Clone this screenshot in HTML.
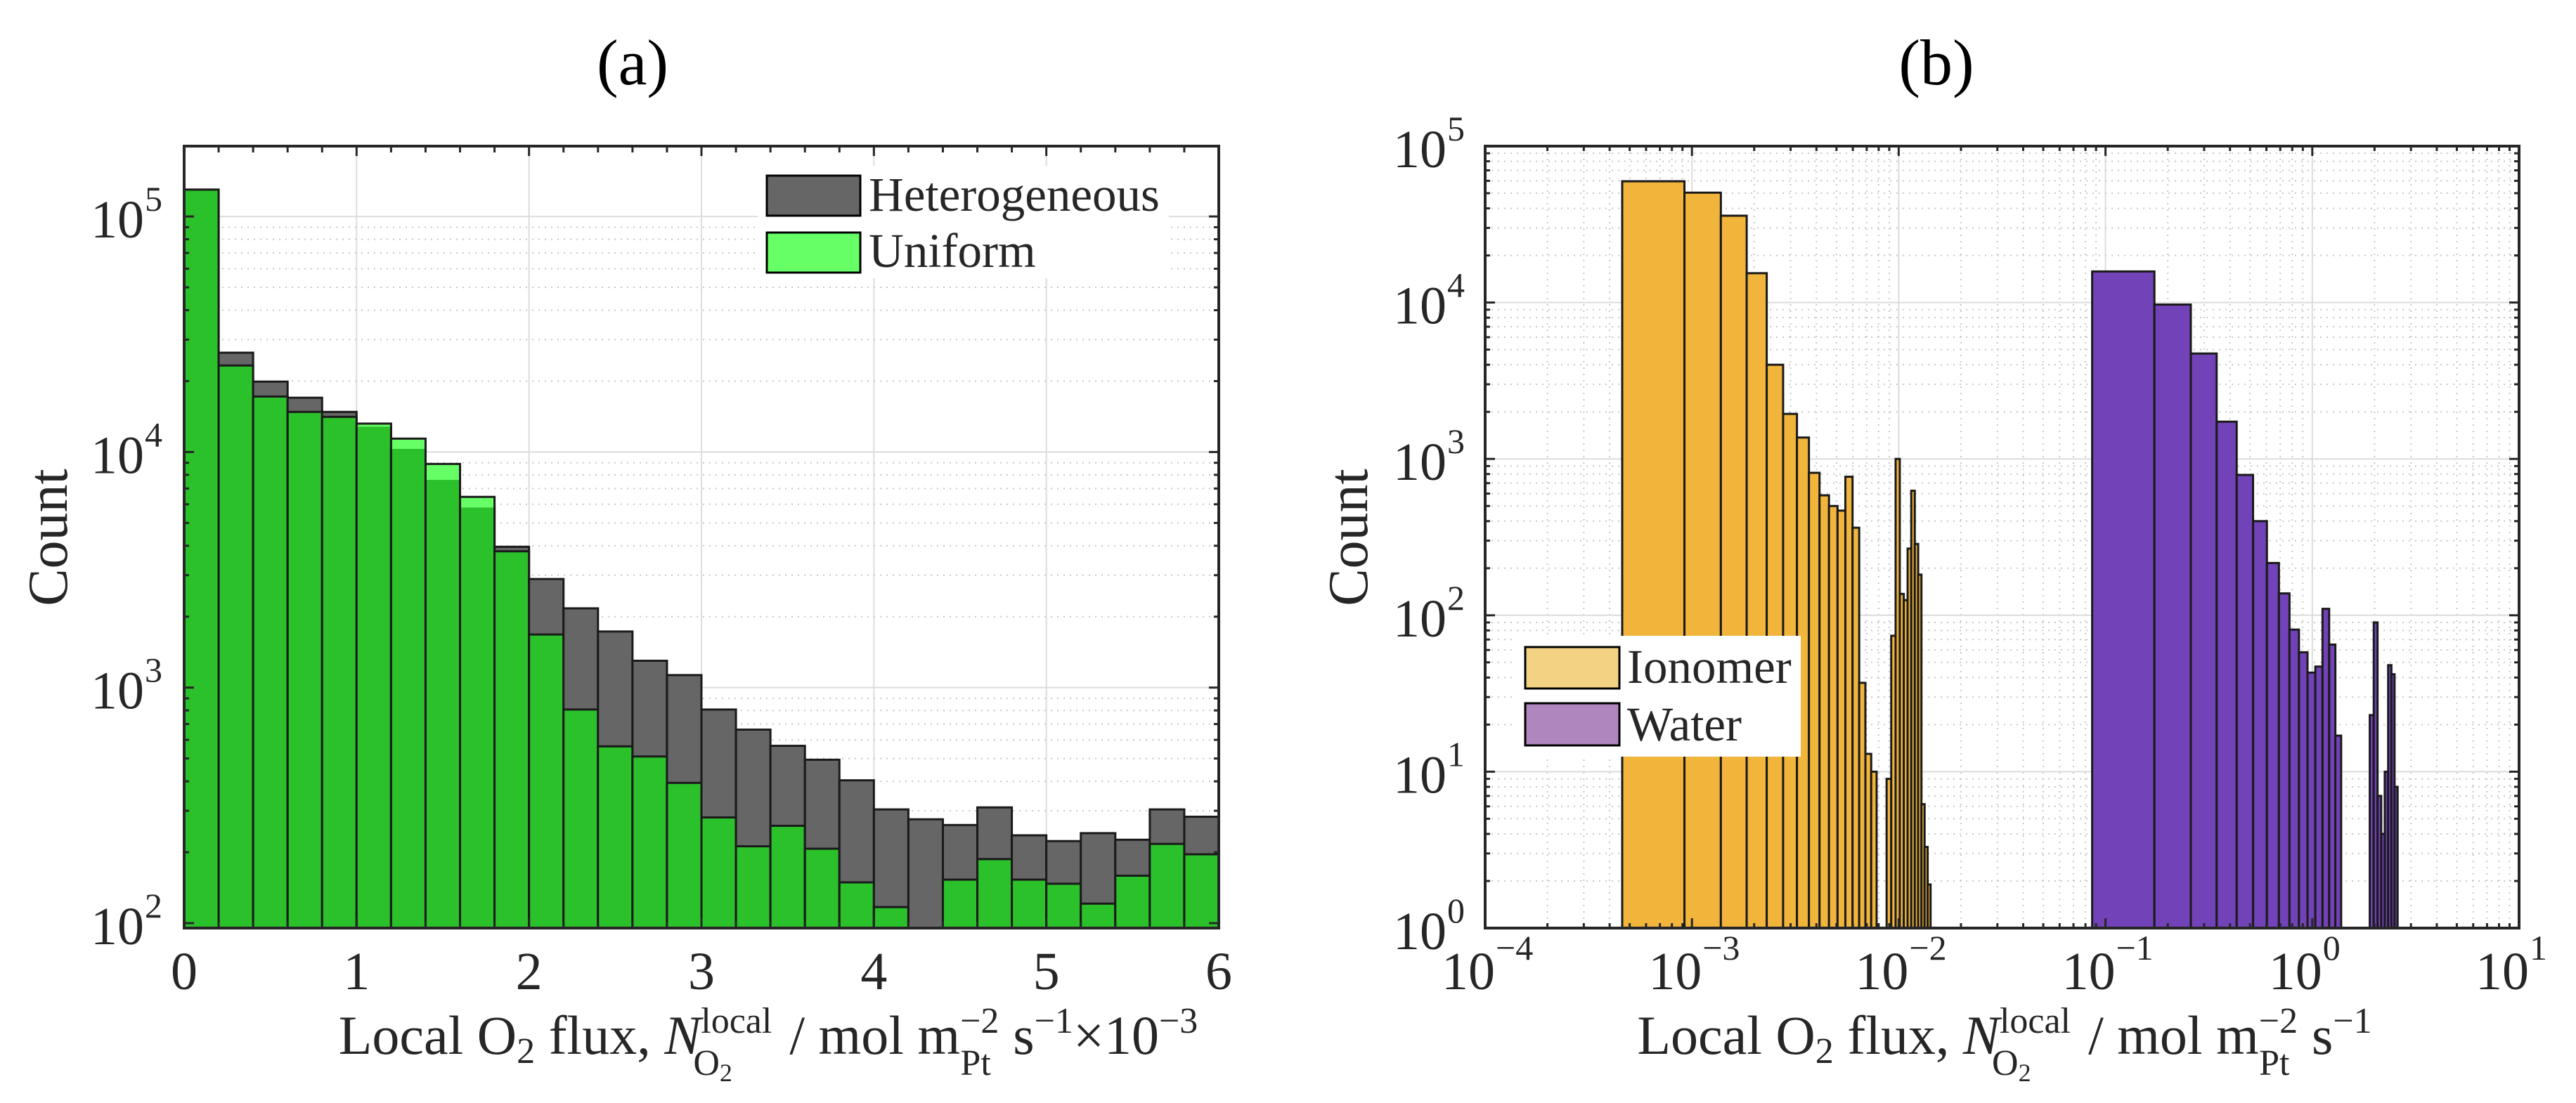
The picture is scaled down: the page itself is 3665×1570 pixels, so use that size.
<!DOCTYPE html>
<html><head><meta charset="utf-8"><style>
html,body{margin:0;padding:0;background:#fff}
svg text{font-family:"Liberation Serif",serif;fill:#262626}
</style></head><body>
<svg id="fig" width="3665" height="1565" xmlns="http://www.w3.org/2000/svg">
<g id="gA"></g>
<g id="gB"></g>
<text x="900" y="120" font-size="92" text-anchor="middle" style="fill:#000">(a)</text>
<text x="2755" y="120" font-size="92" text-anchor="middle" style="fill:#000">(b)</text>
<text transform="translate(95,765) rotate(-90)" font-size="80" text-anchor="middle">Count</text>
<text transform="translate(1945,765) rotate(-90)" font-size="80" text-anchor="middle">Count</text>
<text x="1093" y="1500" font-size="78" text-anchor="middle">Local O<tspan font-size="52" dy="13">2</tspan><tspan dy="-13"> flux, </tspan><tspan font-style="italic">N</tspan><tspan font-size="52" dy="-30">local</tspan><tspan font-size="52" dx="-112" dy="60">O</tspan><tspan font-size="36" dy="9">2</tspan><tspan dx="62" dy="-39"> / mol m</tspan><tspan font-size="52" dy="-30">−2</tspan><tspan font-size="52" dx="-55" dy="60">Pt</tspan><tspan dx="12" dy="-30"> s</tspan><tspan font-size="52" dy="-30">−1</tspan><tspan dy="30">×10</tspan><tspan font-size="52" dy="-30">−3</tspan></text>
<text x="2852" y="1500" font-size="78" text-anchor="middle">Local O<tspan font-size="52" dy="13">2</tspan><tspan dy="-13"> flux, </tspan><tspan font-style="italic">N</tspan><tspan font-size="52" dy="-30">local</tspan><tspan font-size="52" dx="-112" dy="60">O</tspan><tspan font-size="36" dy="9">2</tspan><tspan dx="62" dy="-39"> / mol m</tspan><tspan font-size="52" dy="-30">−2</tspan><tspan font-size="52" dx="-55" dy="60">Pt</tspan><tspan dx="12" dy="-30"> s</tspan><tspan font-size="52" dy="-30">−1</tspan></text>
</svg>
<script>
// ---------- Panel (a) data ----------
const binsA = [0,0.2,0.4,0.6,0.8,1.0,1.2,1.4,1.6,1.8,2.0,2.2,2.4,2.6,2.8,3.0,3.2,3.4,3.6,3.8,4.0,4.2,4.4,4.6,4.8,5.0,5.2,5.4,5.6,5.8,6.0];
const heteroCounts = [130000,26400,19900,17000,14800,12800,10300,7600,5800,3960,2890,2170,1730,1300,1130,807,663,566,494,404,304,276,261,310,236,223,241,226,304,283];
const uniformCounts = [130000,23300,17200,14800,14100,13200,11400,8900,6450,3790,1680,807,563,510,394,281,212,259,207,149,117,95,153,187,153,147,121,159,217,196];
const xTicksA = [0,1,2,3,4,5,6];
const yDecadesA = [2,3,4,5];
// ---------- Panel (b) data ----------
const ionomerBinWidth = 4.6e-4;
const ionomerCounts = [59600,50400,35900,15400,4000,1940,1370,815,585,500,467,769,363,37,13,10,0,0,9,74,1000,137,125,267,626,286,182,6.2,3.3,1.9];
const waterBinWidth = 0.0862;
const waterCounts = [15800,9700,4720,1730,790,400,216,138,81,58,43,47,110,65,17,0,0,0,0,0,0,23,90,7,4,10,48,42,8];
const xDecadesB = [-4,-3,-2,-1,0,1];
const yDecadesB = [0,1,2,3,4,5];

const NS = 'http://www.w3.org/2000/svg';
function mk(parent, tag, attrs){ const e=document.createElementNS(NS,tag); for(const k in attrs) e.setAttribute(k,attrs[k]); parent.appendChild(e); return e; }

const A = {l:262, r:1734, t:208, b:1321};
const B = {l:2113, r:3584, t:208, b:1321};
function xA(v){ return A.l + v*(A.r-A.l)/6; }
function yA(c){ const y = 1314 - (Math.log10(c)-2)*335.3; return Math.min(y, A.b); }
function xB(v){ return B.l + (Math.log10(v)+4)*(B.r-B.l)/5; }
function yB(c){ return B.b - Math.log10(c)*(B.b-B.t)/5; }

const gA = document.getElementById('gA');
const gB = document.getElementById('gB');

// ---- grid A ----
xTicksA.forEach(v=>{ if(v>0&&v<6){ const l=mk(gA,'line',{x1:xA(v),x2:xA(v),y1:A.t,y2:A.b,stroke:'#dcdcdc','stroke-width':2});

 }});
yDecadesA.forEach(d=>{ for(let m=1;m<10;m++){ const c=m*Math.pow(10,d); const y=yA(c); if(y<=A.t||y>=A.b-1) continue;
 const l=mk(gA,'line',{x1:A.l,x2:A.r,y1:y,y2:y,stroke:m===1?'#dcdcdc':'#c8c8c8','stroke-width':2,'stroke-dasharray':m===1?'':'2 7'});
 
  }});

// ---- bars A ----
for(let i=0;i<heteroCounts.length;i++){
  const x0=xA(binsA[i]), x1=xA(binsA[i+1]);
  const h=heteroCounts[i], u=uniformCounts[i];
  const yh=yA(h), yu=yA(u), yo=yA(Math.min(h,u));
  const r1=mk(gA,'rect',{x:x0,y:yh,width:x1-x0,height:A.b-yh,fill:'#666666',stroke:'#1a1a1a','stroke-width':3});
  
  
  if(u>h){ const r2=mk(gA,'rect',{x:x0,y:yu,width:x1-x0,height:yo-yu,fill:'#66ff66',stroke:'none'});
    
     }
  const r3=mk(gA,'rect',{x:x0,y:yo,width:x1-x0,height:A.b-yo,fill:'#2bc12b',stroke:'none'});
  
  
  const r4=mk(gA,'rect',{x:x0,y:yu,width:x1-x0,height:A.b-yu,fill:'none',stroke:'#1a1a1a','stroke-width':3});
  
  
}

// ---- axes A ----
const boxA=mk(gA,'rect',{x:A.l,y:A.t,width:A.r-A.l,height:A.b-A.t,fill:'none',stroke:'#262626','stroke-width':4});


for(let v=0;v<=6.001;v+=0.2){ const x=xA(v); const major=Math.abs(v-Math.round(v))<1e-6; const L=major?14:9;
  mk(gA,'line',{x1:x,x2:x,y1:A.b,y2:A.b-L,stroke:'#262626','stroke-width':3});
  mk(gA,'line',{x1:x,x2:x,y1:A.t,y2:A.t+L,stroke:'#262626','stroke-width':3}); }
yDecadesA.forEach(d=>{ for(let m=1;m<10;m++){ const y=yA(m*Math.pow(10,d)); if(y<A.t||y>A.b-1) continue; const L=m===1?14:7;
  mk(gA,'line',{x1:A.l,x2:A.l+L,y1:y,y2:y,stroke:'#262626','stroke-width':3});
  mk(gA,'line',{x1:A.r,x2:A.r-L,y1:y,y2:y,stroke:'#262626','stroke-width':3}); }});
xTicksA.forEach(v=>{ const t=mk(gA,'text',{x:xA(v),y:1408,'font-size':76,'text-anchor':'middle'}); t.textContent=String(v);
  
   });
yDecadesA.forEach(d=>{ const y=1314-(d-2)*335.3; const t=mk(gA,'text',{x:205,y:y+30,'font-size':76,'text-anchor':'end'}); t.textContent='10';
  
  
  const s=mk(gA,'text',{x:206,y:y-8,'font-size':50,'text-anchor':'start'}); s.textContent=String(d);
  
   });

// ---- legend A ----
const legA=mk(gA,'g',{});


mk(legA,'rect',{x:1078,y:236,width:585,height:160,fill:'#fff'});
const p1=mk(legA,'rect',{x:1091,y:250,width:133,height:57,fill:'#666666',stroke:'#000','stroke-width':3});


const p2=mk(legA,'rect',{x:1091,y:331,width:133,height:57,fill:'#66ff66',stroke:'#000','stroke-width':3});


const t1=mk(legA,'text',{x:1236,y:300,'font-size':69}); t1.textContent='Heterogeneous';


const t2=mk(legA,'text',{x:1236,y:380,'font-size':69}); t2.textContent='Uniform';



// ---- grid B ----
for(let d=-4; d<1; d++){ for(let m=1;m<10;m++){ const x=xB(m*Math.pow(10,d)); if(x<=B.l+1) continue;
  const l=mk(gB,'line',{x1:x,x2:x,y1:B.t,y2:B.b,stroke:m===1?'#dcdcdc':'#c8c8c8','stroke-width':2,'stroke-dasharray':m===1?'':'2 7'});
  
   }}
for(let d=0; d<5; d++){ for(let m=1;m<10;m++){ const y=yB(m*Math.pow(10,d)); if(y>=B.b-1) continue;
  const l=mk(gB,'line',{x1:B.l,x2:B.r,y1:y,y2:y,stroke:m===1?'#dcdcdc':'#c8c8c8','stroke-width':2,'stroke-dasharray':m===1?'':'2 7'});
  
   }}

// ---- bars B ----
function drawSeries(counts,w,fill,name){
  counts.forEach((c,i)=>{ if(!(c>=1)) return; const k=i+1;
    const x0=xB(k*w), x1=xB((k+1)*w), y=yB(c);
    const r=mk(gB,'rect',{x:x0,y:y,width:x1-x0,height:B.b-y,fill:fill,stroke:'#1a1a1a','stroke-width':3});
    
     });
}
drawSeries(ionomerCounts,ionomerBinWidth,'#f1b53b','bar-ionomer');
drawSeries(waterCounts,waterBinWidth,'#7242b8','bar-water');

// ---- axes B ----
const boxB=mk(gB,'rect',{x:B.l,y:B.t,width:B.r-B.l,height:B.b-B.t,fill:'none',stroke:'#262626','stroke-width':4});


for(let d=-4; d<=1; d++){ for(let m=1;m<10;m++){ if(d===1&&m>1) break; const x=xB(m*Math.pow(10,d)); const L=m===1?14:7;
  mk(gB,'line',{x1:x,x2:x,y1:B.b,y2:B.b-L,stroke:'#262626','stroke-width':3});
  mk(gB,'line',{x1:x,x2:x,y1:B.t,y2:B.t+L,stroke:'#262626','stroke-width':3}); }}
for(let d=0; d<=5; d++){ for(let m=1;m<10;m++){ if(d===5&&m>1) break; const y=yB(m*Math.pow(10,d)); const L=m===1?14:7;
  mk(gB,'line',{x1:B.l,x2:B.l+L,y1:y,y2:y,stroke:'#262626','stroke-width':3});
  mk(gB,'line',{x1:B.r,x2:B.r-L,y1:y,y2:y,stroke:'#262626','stroke-width':3}); }}
xDecadesB.forEach(d=>{ const x=xB(Math.pow(10,d));
  const t=mk(gB,'text',{x:x+14,y:1408,'font-size':76,'text-anchor':'end'}); t.textContent='10';
  
  
  const s=mk(gB,'text',{x:x+15,y:1366,'font-size':50}); s.textContent=d<0?('−'+(-d)):String(d);
  
   });
yDecadesB.forEach(d=>{ const y=yB(Math.pow(10,d));
  const t=mk(gB,'text',{x:2058,y:y+30,'font-size':76,'text-anchor':'end'}); t.textContent='10';
  
  
  const s=mk(gB,'text',{x:2059,y:y-8,'font-size':50}); s.textContent=String(d);
  
   });

// ---- legend B ----
const legB=mk(gB,'g',{});


mk(legB,'rect',{x:2158,y:905,width:404,height:172,fill:'#fff'});
const q1=mk(legB,'rect',{x:2170,y:921,width:134,height:59,fill:'#f3d283',stroke:'#000','stroke-width':3});


const q2=mk(legB,'rect',{x:2170,y:1001,width:134,height:60,fill:'#b086bf',stroke:'#000','stroke-width':3});


const u1=mk(legB,'text',{x:2315,y:972,'font-size':69}); u1.textContent='Ionomer';


const u2=mk(legB,'text',{x:2315,y:1054,'font-size':69}); u2.textContent='Water';


</script>
</body></html>
